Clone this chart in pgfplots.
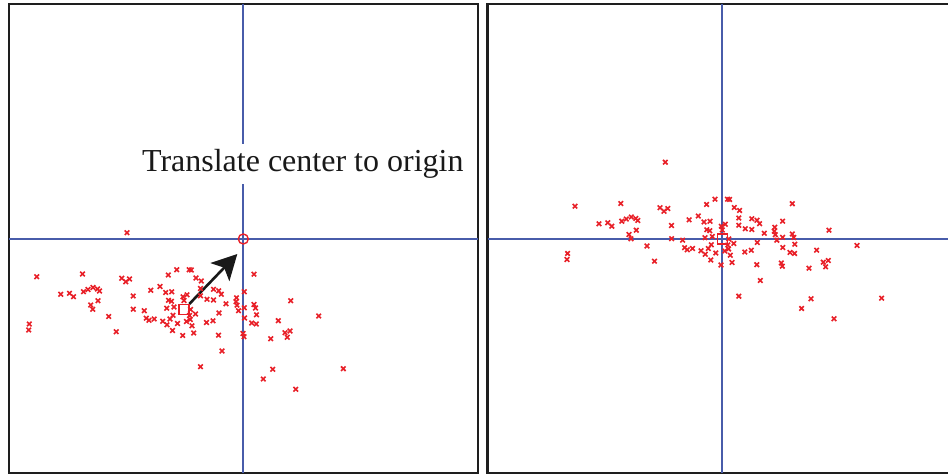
\documentclass[border=0pt]{standalone}
\usepackage{pgfplots}
\pgfplotsset{compat=1.18}
\usepackage{pgfplotstable}
\usepackage{fontspec}
\setmainfont{Liberation Serif}
\usetikzlibrary{arrows.meta}

\definecolor{ptred}{RGB}{232,32,40}
\definecolor{axblue}{RGB}{72,92,170}
\definecolor{framec}{RGB}{30,30,30}

% point positions (pixel coords of the left panel, y downwards)
\pgfplotstableread{
px py
29.3 324
28.7 330
36.7 276.7
60.7 294.3
69.5 293.3
73.5 296.7
82.5 274
83.5 291.7
88 289.5
93 287.5
97.5 289
99.5 291
98 300.7
90.7 305
92.7 309.3
108.7 316.5
116.2 331.7
127 232.7
121.7 278.2
125.7 281.8
129.5 279
133.2 296
133.3 309.2
144.3 310.7
146.3 318.2
149 320.3
154.2 319
150.8 290.3
160 286.5
162.7 321.3
167 324.8
168.3 275
176.7 269.7
189.2 269.7
191.3 270
196 278
201.3 281
165.7 292.5
171.7 291.8
168.5 300.3
171.5 301.3
166.7 308.2
174 307
173 315.3
170 319
177.5 323.5
172.5 330.5
182.7 335.5
183 296.8
187 294.8
184 300.5
189.5 315.5
190.3 319.5
186.5 321.5
195.5 314
192 325.8
193.7 333
190.5 309.5
200.5 366.7
200.5 288.5
200.5 295.8
207 299.3
213.5 300
213.5 289.3
218.7 290.8
221.3 294.2
206.5 322.5
213 320.8
219 313
218.5 335.2
222 351
226 303.8
236.5 297.8
236 301.7
237 305.2
238.5 310.7
244.3 291.7
244.3 307.8
244.5 318
243 333.5
244 336.7
254 274.2
254 304.5
255.5 308
256.5 314.8
251.7 323
256.3 324
290.7 300.7
278.3 320.7
270.7 338.7
285 332.7
290 331
287.3 337.3
318.7 316
272.7 369.3
263.3 379
295.7 389.3
343.3 368.7
}\pts

\begin{document}
\begin{tikzpicture}
\useasboundingbox (0,0) rectangle (474pt,237.5pt);
\pgfplotsset{
  panel/.style={
    scale only axis, width=234.5pt, height=234.5pt,
    ymin=4, ymax=473, y dir=reverse,
    xtick=\empty, ytick=\empty,
    axis line style={line width=1.35pt, draw=framec},
    anchor=south west,
  },
  pts/.style={only marks, mark=x, mark size=1.6pt,
    mark options={line width=0.8pt, draw=ptred}},
}

% before
\begin{axis}[panel, at={(4.5pt,1pt)}, xmin=9, xmax=478]
  \draw[axblue, line width=1pt] (axis cs:243.3,4) -- (axis cs:243.3,473);
  \draw[axblue, line width=1pt] (axis cs:9,239) -- (axis cs:478,239);
  \node[anchor=base west, fill=white, inner xsep=0pt, inner ysep=2.5pt,
        font=\fontsize{16}{19}\selectfont, text=black!90]
    at (axis cs:141.7,171.7) {Translate center to origin};
  \addplot[pts] table[x=px, y=py] {\pts};
  \addplot[only marks, mark=square, mark size=2.5pt,
    mark options={line width=0.7pt, draw=ptred}] coordinates {(184,309.5)};
  \addplot[only marks, mark=o, mark size=2.5pt,
    mark options={line width=0.7pt, draw=ptred}] coordinates {(243.3,239)};
  \draw[line width=1.3pt, black!90,
    -{Stealth[length=12.5pt, width=13pt, inset=3pt]}]
    (axis cs:189.3,304) -- (axis cs:237.3,254);
\end{axis}

% after
\begin{axis}[panel, at={(243.85pt,1pt)}, xmin=487.7, xmax=956.7]
  \draw[axblue, line width=1pt] (axis cs:722.3,4) -- (axis cs:722.3,473);
  \draw[axblue, line width=1pt] (axis cs:487.7,239) -- (axis cs:956.7,239);
  \addplot[pts] table[x expr=\thisrow{px}+538.3, y expr=\thisrow{py}-70.5] {\pts};
  \addplot[only marks, mark=square, mark size=2.5pt,
    mark options={line width=0.7pt, draw=ptred}] coordinates {(722.3,239)};
\end{axis}
\end{tikzpicture}
\end{document}
